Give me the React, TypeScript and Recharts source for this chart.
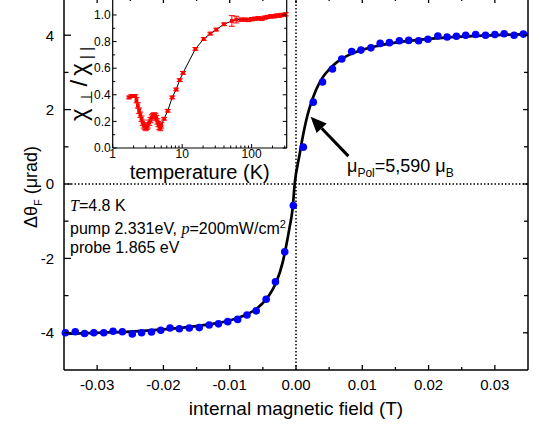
import { ComposedChart, Scatter, Line, XAxis, YAxis, ReferenceLine, ErrorBar } from "recharts";

// main panel: Faraday rotation vs internal field
const fieldT = [
  -0.0348, -0.0333, -0.0319, -0.0305, -0.029, -0.0276, -0.0262, -0.0247, -0.0233, -0.0218,
  -0.0204, -0.019, -0.0176, -0.0161, -0.0146, -0.0131, -0.0117, -0.0103, -0.0088, -0.0074,
  -0.006, -0.0045, -0.0031, -0.0017, -0.0004, 0.0011, 0.0026, 0.004, 0.0055, 0.0069,
  0.0084, 0.0098, 0.0113, 0.0127, 0.0141, 0.0156, 0.017, 0.0185, 0.0199, 0.0214,
  0.0228, 0.0242, 0.0256, 0.0271, 0.0286, 0.03, 0.0314, 0.0329, 0.0343,
];
const rotation = [
  -4.0, -3.97, -4.02, -4.0, -4.0, -3.96, -3.97, -4.03, -4.0, -3.98,
  -3.93, -3.87, -3.89, -3.87, -3.86, -3.79, -3.76, -3.7, -3.64, -3.52,
  -3.41, -3.1, -2.63, -1.82, -0.58, 0.99, 2.2, 2.74, 3.09, 3.36,
  3.56, 3.6, 3.66, 3.78, 3.8, 3.85, 3.86, 3.85, 3.89, 3.98,
  3.95, 3.97, 4.0, 4.02, 4.0, 4.02, 4.04, 4.0, 4.03,
];

// fitted curve (black line)
const fitField = [
  -0.035, -0.03, -0.025, -0.02, -0.015, -0.0125, -0.01, -0.008, -0.006, -0.005, -0.004,
  -0.003, -0.002, -0.0015, -0.001, -0.0005, -0.0002, 0.0005, 0.001, 0.0015, 0.002, 0.003,
  0.004, 0.005, 0.006, 0.008, 0.01, 0.0125, 0.015, 0.02, 0.025, 0.03, 0.035,
];
const fitRot = [
  -4.03, -4.0, -3.97, -3.91, -3.82, -3.76, -3.67, -3.55, -3.36, -3.2, -2.98,
  -2.65, -2.1, -1.68, -1.2, -0.64, 0, 0.75, 1.25, 1.68, 2.02, 2.52,
  2.86, 3.08, 3.25, 3.47, 3.61, 3.72, 3.8, 3.9, 3.96, 4.0, 4.03,
];

const xMajor = [-0.03, -0.02, -0.01, 0, 0.01, 0.02, 0.03];
const xMinor = [-0.025, -0.015, -0.005, 0.005, 0.015, 0.025];
const yMajor = [-4, -2, 0, 2, 4];
const yMinor = [-3, -1, 1, 3];

// inset: susceptibility ratio vs temperature
const tempK = [
  1.72, 1.85, 1.98, 2.1, 2.2, 2.3, 2.4, 2.5, 2.6, 2.7,
  2.8, 2.9, 3.0, 3.1, 3.2, 3.35, 3.5, 3.65, 3.8, 3.95,
  4.1, 4.25, 4.4, 4.55, 4.7, 4.85, 5.0, 5.5, 6.2, 7.2,
  8.2, 9.2, 10.3, 15.5, 20.5, 25.5, 31, 40, 52, 60,
  70, 80, 90, 100, 112, 125, 140, 155, 170, 190,
  210, 230, 250, 270, 290, 310,
];
const chiRatio = [
  0.38, 0.39, 0.39, 0.39, 0.36, 0.32, 0.28, 0.25, 0.22, 0.19,
  0.17, 0.16, 0.15, 0.16, 0.17, 0.19, 0.21, 0.23, 0.24, 0.245,
  0.24, 0.225, 0.2, 0.18, 0.16, 0.15, 0.17, 0.22, 0.28, 0.38,
  0.44, 0.51, 0.565, 0.745, 0.82, 0.86, 0.89, 0.93, 0.955, 0.965,
  0.965, 0.965, 0.962, 0.968, 0.972, 0.975, 0.972, 0.98, 0.985, 0.99,
  0.99, 0.995, 0.995, 1.0, 1.0, 1.005,
];
const chiErr = [
  0.01, 0.01, 0.01, 0.01, 0.02, 0.02, 0.02, 0.02, 0.02, 0.02,
  0.02, 0.02, 0.02, 0.02, 0.02, 0.02, 0.02, 0.02, 0.02, 0.02,
  0.02, 0.02, 0.02, 0.02, 0.02, 0.02, 0.02, 0.01, 0.01, 0.01,
  0.01, 0.01, 0.01, 0.01, 0.01, 0.01, 0.01, 0.01, 0.04, 0.025,
  0.012, 0.012, 0.012, 0.012, 0.012, 0.012, 0.012, 0.012, 0.012, 0.012,
  0.012, 0.012, 0.012, 0.012, 0.012, 0.012,
];
const insetXMajor = [1, 10, 100];
const insetXMinor = [2, 3, 4, 5, 6, 7, 8, 9, 20, 30, 40, 50, 60, 70, 80, 90, 200, 300];
const insetYMajor = [0, 0.2, 0.4, 0.6, 0.8, 1.0];
const insetYMinor = [0.1, 0.3, 0.5, 0.7, 0.9];

const FONT = "'Liberation Sans', Arial, Helvetica, sans-serif";
const SERIF_I = { fontFamily: "'Liberation Serif', 'Times New Roman', serif", fontStyle: "italic" as const };
const AX = { stroke: "#000", strokeWidth: 1.5 };
const AXi = { stroke: "#000", strokeWidth: 1.2 };

const byValue = (a: number, b: number) => a - b;
const isIn = (arr: number[], v: number) => arr.some((m) => Math.abs(m - v) < 1e-9);

// tick renderers: inward tick marks drawn from the axis line, label (if major) outside
type TickCfg = { major: number[]; maj: number; min: number; gap: number; fs?: number; fmt?: (v: number) => string; w?: number };

const leftTick = (c: TickCfg) => (p: any) => {
  const v = p.payload.value;
  const big = isIn(c.major, v);
  const ax = p.x + c.gap;
  return (
    <g>
      <line x1={ax} x2={ax + (big ? c.maj : c.min)} y1={p.y} y2={p.y} stroke="#000" strokeWidth={c.w ?? 1.3} />
      {big && c.fs ? (
        <text x={p.x} y={p.y} dy="0.36em" textAnchor="end" fontSize={c.fs} fill="#000">{c.fmt ? c.fmt(v) : v}</text>
      ) : null}
    </g>
  );
};
const rightTick = (c: TickCfg) => (p: any) => {
  const big = isIn(c.major, p.payload.value);
  return <line x1={p.x - (big ? c.maj : c.min)} x2={p.x} y1={p.y} y2={p.y} stroke="#000" strokeWidth={c.w ?? 1.3} />;
};
const bottomTick = (c: TickCfg) => (p: any) => {
  const v = p.payload.value;
  const big = isIn(c.major, v);
  const ay = p.y - c.gap;
  return (
    <g>
      <line x1={p.x} x2={p.x} y1={ay} y2={ay - (big ? c.maj : c.min)} stroke="#000" strokeWidth={c.w ?? 1.3} />
      {big && c.fs ? (
        <text x={p.x} y={p.y} dy="0.72em" textAnchor="middle" fontSize={c.fs} fill="#000">{c.fmt ? c.fmt(v) : v}</text>
      ) : null}
    </g>
  );
};
const topTick = (c: TickCfg) => (p: any) => {
  const big = isIn(c.major, p.payload.value);
  return <line x1={p.x} x2={p.x} y1={p.y} y2={p.y + (big ? c.maj : c.min)} stroke="#000" strokeWidth={c.w ?? 1.3} />;
};

const points = fieldT.map((x, i) => ({ x, y: rotation[i] }));
const fit = fitField.map((x, i) => ({ x, y: fitRot[i] }));
const inset = tempK.map((t, i) => ({ t, c: chiRatio[i], e: chiErr[i] }));

const Dot = (p: any) => <circle cx={p.cx} cy={p.cy} r={3.8} fill="#0000ff" />;
const Sq = (p: any) => <rect x={p.cx - 1.9} y={p.cy - 1.9} width={3.8} height={3.8} fill="#ff0000" />;

const Arrow = (p: any) => {
  const { x1, y1, x2, y2 } = p;
  const a = Math.atan2(y2 - y1, x2 - x1);
  const bx = x2 - 16 * Math.cos(a);
  const by = y2 - 16 * Math.sin(a);
  const px = -Math.sin(a) * 7;
  const py = Math.cos(a) * 7;
  return (
    <g>
      <line x1={x1} y1={y1} x2={bx} y2={by} stroke="#000" strokeWidth={3} />
      <polygon points={`${x2},${y2} ${bx + px},${by + py} ${bx - px},${by - py}`} fill="#000" />
    </g>
  );
};

function MainChart() {
  const xDom: [number, number] = [-0.035, 0.035];
  const yDom: [number, number] = [-5, 5];
  const xTicks = [...xMajor, ...xMinor].sort(byValue);
  const yTicks = [...yMajor, ...yMinor].sort(byValue);
  return (
    <ComposedChart width={540} height={434} margin={{ top: 0, right: 0, bottom: 0, left: 0 }}>
      <XAxis xAxisId="f" dataKey="x" type="number" domain={xDom} ticks={xTicks} interval={0} height={60}
        tickSize={0} tickMargin={9} tickLine={false} axisLine={AX}
        tick={bottomTick({ major: xMajor, maj: 5, min: 3, gap: 9, fs: 15, fmt: (v) => v.toFixed(2) })}
        label={{ value: "internal magnetic field (T)", position: "insideBottom", offset: 15, fill: "#000", fontSize: 19 }} />
      <XAxis xAxisId="top" orientation="top" dataKey="x" type="number" domain={xDom} ticks={xTicks} interval={0}
        height={2} tickSize={0} tickMargin={0} tickLine={false} axisLine={AX}
        tick={topTick({ major: xMajor, maj: 5, min: 3, gap: 0 })} />
      <YAxis yAxisId="r" type="number" domain={yDom} ticks={yTicks} interval={0} width={64}
        tickSize={0} tickMargin={10} tickLine={false} axisLine={AX}
        tick={leftTick({ major: yMajor, maj: 7, min: 4.5, gap: 10, fs: 15 })} />
      <YAxis yAxisId="rr" orientation="right" type="number" domain={yDom} ticks={yTicks} interval={0} width={12}
        tickSize={0} tickMargin={0} tickLine={false} axisLine={AX}
        tick={rightTick({ major: yMajor, maj: 5, min: 4, gap: 0 })} />

      <ReferenceLine xAxisId="f" yAxisId="r" y={0} stroke="#000" strokeWidth={1.5} strokeDasharray="1.5 2" />
      <ReferenceLine xAxisId="f" yAxisId="r" x={0} stroke="#000" strokeWidth={1.5} strokeDasharray="1.5 2" />

      <Line xAxisId="top" yAxisId="rr" data={fit} dataKey="y" type="monotone" stroke="#000" strokeWidth={2.7}
        dot={false} isAnimationActive={false} />
      <Scatter xAxisId="f" yAxisId="r" data={points} dataKey="y" shape={Dot} isAnimationActive={false} />

      <ReferenceLine xAxisId="f" yAxisId="r" segment={[{ x: 0.0079, y: 0.75 }, { x: 0.0022, y: 1.81 }]}
        shape={Arrow} />
    </ComposedChart>
  );
}

function InsetChart() {
  const tDom: [number, number] = [1, 320];
  const cDom: [number, number] = [0, 1.12];
  const tTicks = [...insetXMajor, ...insetXMinor].sort(byValue);
  const cTicks = [...insetYMajor, ...insetYMinor].sort(byValue);
  return (
    <ComposedChart width={300} height={189} margin={{ top: 0, right: 0, bottom: 0, left: 0 }}>
      <XAxis xAxisId="t" dataKey="t" type="number" scale="log" domain={tDom} ticks={tTicks} interval={0}
        height={40} tickSize={0} tickMargin={1} tickLine={false} axisLine={AXi} allowDataOverflow
        tick={bottomTick({ major: insetXMajor, maj: 4, min: 2.5, gap: 1, fs: 12, w: 1 })}
        label={{ value: "temperature (K)", position: "insideBottom", offset: 9, fill: "#000", fontSize: 20 }} />
      <YAxis yAxisId="c" type="number" domain={cDom} ticks={cTicks} interval={0} width={112.7}
        tickSize={0} tickMargin={2} tickLine={false} axisLine={AXi} allowDataOverflow
        tick={leftTick({ major: insetYMajor, maj: 4, min: 2.5, gap: 2, fs: 12, w: 1, fmt: (v) => v.toFixed(1) })} />
      <YAxis yAxisId="cr" orientation="right" type="number" domain={cDom} ticks={cTicks} interval={0} width={13.3}
        tickSize={0} tickMargin={0} tickLine={false} axisLine={AXi} allowDataOverflow
        tick={rightTick({ major: insetYMajor, maj: 4, min: 2.5, gap: 0, w: 1 })} />

      <Line xAxisId="t" yAxisId="cr" data={inset} dataKey="c" type="linear" stroke="#000" strokeWidth={1}
        dot={false} isAnimationActive={false} />
      <Scatter xAxisId="t" yAxisId="c" data={inset} dataKey="c" shape={Sq} isAnimationActive={false}>
        <ErrorBar dataKey="e" direction="y" width={3} stroke="#ff0000" strokeWidth={1} />
      </Scatter>
    </ComposedChart>
  );
}

export default function App() {
  const txt = { position: "absolute" as const, whiteSpace: "nowrap" as const, lineHeight: 1 };
  return (
    <div style={{ position: "absolute", left: 0, top: 0, width: 540, height: 430, overflow: "hidden",
      background: "#fff", color: "#000", fontFamily: FONT }}>
      <div style={{ position: "absolute", left: 0, top: -4 }}>
        <MainChart />
      </div>
      <div style={{ position: "absolute", left: 0, top: -1 }}>
        <InsetChart />
      </div>

      {/* main y title */}
      <div style={{ ...txt, left: 33, top: 187, fontSize: 18, transform: "translate(-50%, -50%) rotate(-90deg)" }}>
        Δθ<sub style={{ fontSize: 11 }}>F</sub> (μrad)
      </div>
      {/* inset y title */}
      <div style={{ ...txt, left: 81, top: 82, fontSize: 24, letterSpacing: 4,
        transform: "translate(-50%, -50%) rotate(-90deg)" }}>
        χ<sub style={{ fontSize: 16 }}>⊥</sub>/χ<sub style={{ fontSize: 16 }}>||</sub>
      </div>

      <div style={{ ...txt, left: 70, top: 198, fontSize: 16 }}>
        <span style={SERIF_I}>T</span>=4.8 K
      </div>
      <div style={{ ...txt, left: 70, top: 219, fontSize: 16 }}>
        pump 2.331eV, <span style={SERIF_I}>p</span>=200mW/cm<sup style={{ fontSize: 11 }}>2</sup>
      </div>
      <div style={{ ...txt, left: 70, top: 240, fontSize: 16 }}>probe 1.865 eV</div>

      <div style={{ ...txt, left: 347, top: 157, fontSize: 18 }}>
        μ<sub style={{ fontSize: 12 }}>Pol</sub>=5,590 μ<sub style={{ fontSize: 12 }}>B</sub>
      </div>
    </div>
  );
}
